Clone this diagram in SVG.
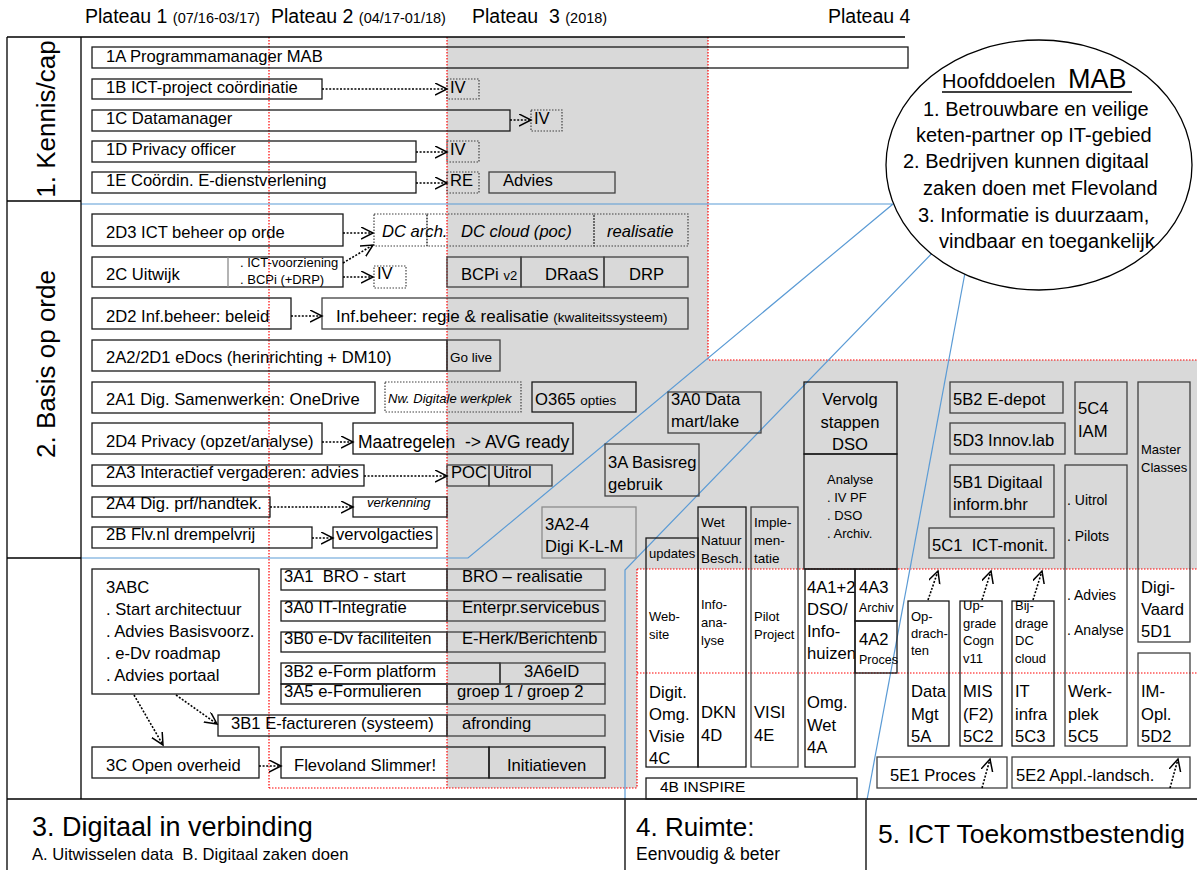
<svg xmlns="http://www.w3.org/2000/svg" width="1197" height="870" viewBox="0 0 1197 870">
<defs>
<marker id="ah" markerUnits="userSpaceOnUse" markerWidth="14" markerHeight="14" refX="12" refY="6" orient="auto"><path d="M0,0 L12,6 L0,12" fill="none" stroke="#000" stroke-width="1.5"/></marker>
<style>
text{font-family:"Liberation Sans",Arial,Helvetica,sans-serif;font-size:16.6px;fill:#000}
.b{fill:none;stroke:#1a1a1a;stroke-width:1.3}
.g{fill:none;stroke:#404040;stroke-width:1.3}
.lg{fill:none;stroke:#8c8c8c;stroke-width:1.3}
.d{fill:none;stroke:#404040;stroke-width:1.2;stroke-dasharray:1.5 1.5}
.red{stroke:#ff0000;stroke-width:1.2;stroke-dasharray:1.5 1.5;fill:none}
.blue{stroke:#5b9bd5;stroke-width:1.2;fill:none}
.fr{stroke:#000;stroke-width:1.3;fill:none}
.ar{stroke:#000;stroke-width:1.6;stroke-dasharray:2 1.6;fill:none;marker-end:url(#ah)}
.i{font-style:italic}
.f12{font-size:12.5px}.f13{font-size:13px}.f135{font-size:13.5px}.f14{font-size:14px}.f145{font-size:14.5px}.f155{font-size:15.5px}
.f17{font-size:17px}.f175{font-size:17.5px}.f195{font-size:19.5px}.f20{font-size:20px}.f26{font-size:26px}.f265{font-size:26.5px}.f27{font-size:27px}
</style>
</defs>
<rect width="1197" height="870" fill="#fff"/>
<g id="background">
<polygon points="447,37 708,37 708,360 1197,360 1197,569 637,569 637,788 447,788" fill="#d9d9d9"/>
<path class="red" d="M269,37V788M447,37V788M708,37V360H1197M637,569H1197M637,673H1197M637,569V788M269,788H637"/>
<path class="blue" d="M81,204H893L468,558H81"/>
<path class="blue" d="M940,245L625,570V800"/>
<path class="blue" d="M967,262L867,800"/>
<path class="fr" d="M7,37H905M7,37V870M81,37V799M7,201H81M7,558H81M7,799H1197M625,800V870M866,800V870"/>
</g>
<g id="headers">
<text x="85" y="23" class="f195">Plateau 1 <tspan class="f145">(07/16-03/17)</tspan></text>
<text x="271" y="23" class="f195">Plateau 2 <tspan class="f145">(04/17-01/18)</tspan></text>
<text x="472" y="23" class="f195" xml:space="preserve">Plateau  3 <tspan class="f145">(2018)</tspan></text>
<text x="828" y="23" class="f195">Plateau 4</text>
</g>
<g id="lanes">
<text transform="translate(55,119) rotate(-90)" text-anchor="middle" class="f26">1. Kennis/cap</text>
<text transform="translate(55,364) rotate(-90)" text-anchor="middle" class="f26">2. Basis op orde</text>
<text x="32" y="836" class="f27">3. Digitaal in verbinding</text>
<text x="32" y="860" xml:space="preserve">A. Uitwisselen data  B. Digitaal zaken doen</text>
<text x="636" y="836" class="f26">4. Ruimte:</text>
<text x="636" y="860" class="f175">Eenvoudig &amp; beter</text>
<text x="878" y="843" class="f265">5. ICT Toekomstbestendig</text>
</g>
<g id="goals">
<ellipse cx="1039" cy="165" rx="153" ry="125" fill="#fff" stroke="#000" stroke-width="1.3"/>
<text x="942" y="88" class="f20">Hoofddoelen</text>
<text x="1068" y="88" class="f27">MAB</text>
<line x1="942" y1="92" x2="1132" y2="92" stroke="#000" stroke-width="1.3"/>
<text x="923" y="116" class="f20">1. Betrouwbare en veilige</text>
<text x="916" y="142" class="f20">keten-partner op IT-gebied</text>
<text x="903" y="168" class="f20">2. Bedrijven kunnen digitaal</text>
<text x="923" y="195" class="f20">zaken doen met Flevoland</text>
<text x="918" y="222" class="f20">3. Informatie is duurzaam,</text>
<text x="939" y="248" class="f20">vindbaar en toegankelijk</text>
</g>
<g id="n1A"><rect class="b" x="92" y="47" width="816" height="21"/><text x="106" y="62">1A Programmamanager MAB</text></g>
<g id="n1B"><rect class="b" x="92" y="79" width="230" height="20"/><text x="106" y="93">1B ICT-project coördinatie</text></g>
<g id="n1B-IV"><rect class="d" x="447" y="79" width="32" height="20"/><text x="450" y="93">IV</text></g>
<g id="n1C"><rect class="b" x="92" y="110" width="418" height="21"/><text x="106" y="124">1C Datamanager</text></g>
<g id="n1C-IV"><rect class="d" x="531" y="110" width="31" height="21"/><text x="534" y="124">IV</text></g>
<g id="n1D"><rect class="b" x="92" y="141" width="324" height="21"/><text x="106" y="155">1D Privacy officer</text></g>
<g id="n1D-IV"><rect class="d" x="447" y="141" width="32" height="21"/><text x="450" y="155">IV</text></g>
<g id="n1E"><rect class="b" x="92" y="172" width="324" height="21"/><text x="106" y="186">1E Coördin. E-dienstverlening</text></g>
<g id="n1E-RE"><rect class="d" x="447" y="172" width="32" height="21"/><text x="450" y="186">RE</text></g>
<g id="n1E-Advies"><rect class="g" x="489" y="172" width="126" height="21"/><text x="503" y="186">Advies</text></g>

<g id="n2D3"><rect class="b" x="92" y="214" width="251" height="32"/><text x="106" y="238">2D3 ICT beheer op orde</text></g>
<g id="n2D3-dcarch"><rect class="d" x="374" y="214" width="53" height="32"/><text x="382" y="237" class="i">DC arch.</text></g>
<g id="n2D3-dccloud"><rect class="d" x="427" y="214" width="167" height="32"/><text x="461" y="237" class="i">DC cloud (poc)</text></g>
<g id="n2D3-real"><rect class="d" x="594" y="214" width="94" height="32"/><text x="607" y="237" class="i">realisatie</text></g>
<g id="n2C"><rect class="b" x="92" y="257" width="251" height="30"/><line class="lg" x1="228" y1="257" x2="228" y2="287"/><text x="106" y="280">2C Uitwijk</text><text x="240" y="267" class="f13">. ICT-voorziening</text><text x="240" y="284" class="f13">. BCPi (+DRP)</text></g>
<g id="n2C-IV"><rect class="d" x="374" y="266" width="32" height="22"/><text x="377" y="279">IV</text></g>
<g id="n2C-bcpi"><rect class="g" x="447" y="257" width="74" height="30"/><text x="461" y="280">BCPi <tspan class="f13">v2</tspan></text></g>
<g id="n2C-draas"><rect class="g" x="521" y="257" width="83" height="30"/><text x="545" y="280">DRaaS</text></g>
<g id="n2C-drp"><rect class="g" x="604" y="257" width="84" height="30"/><text x="629" y="280">DRP</text></g>
<g id="n2D2"><rect class="b" x="92" y="298" width="199" height="31"/><text x="106" y="322">2D2 Inf.beheer: beleid</text></g>
<g id="n2D2-regie"><rect class="g" x="322" y="298" width="366" height="31"/><text x="336" y="322" class="f17">Inf.beheer: regie &amp; realisatie <tspan class="f135">(kwaliteitssysteem)</tspan></text></g>
<g id="n2A2"><rect class="b" x="92" y="340" width="355" height="31"/><text x="106" y="363">2A2/2D1 eDocs (herinrichting + DM10)</text></g>
<g id="n2A2-golive"><rect class="g" x="447" y="340" width="53" height="31"/><text x="450" y="362" class="f135">Go live</text></g>
<g id="n2A1"><rect class="b" x="92" y="382" width="283" height="31"/><text x="106" y="405">2A1 Dig. Samenwerken: OneDrive</text></g>
<g id="n2A1-nw"><rect class="d" x="385" y="382" width="136" height="30"/><text x="388" y="403" class="i f13">Nw. Digitale werkplek</text></g>
<g id="n2A1-o365"><rect class="b" x="532" y="382" width="104" height="30"/><text x="535" y="405">O365 <tspan class="f135">opties</tspan></text></g>
<g id="n2D4"><rect class="b" x="92" y="423" width="230" height="31"/><text x="106" y="447">2D4 Privacy (opzet/analyse)</text></g>
<g id="n2D4-avg"><rect class="b" x="353" y="423" width="220" height="31"/><text x="358" y="448" class="f175" xml:space="preserve">Maatregelen  -&gt; AVG ready</text></g>
<g id="n2A3"><rect class="b" x="92" y="465" width="272" height="21"/><text x="106" y="478">2A3 Interactief vergaderen: advies</text></g>
<g id="n2A3-poc"><rect class="g" x="447" y="465" width="42" height="21"/><text x="451" y="478">POC</text></g>
<g id="n2A3-uitrol"><rect class="g" x="489" y="465" width="63" height="21"/><text x="493" y="478">Uitrol</text></g>
<g id="n2A4"><rect class="b" x="92" y="497" width="178" height="20"/><text x="106" y="509">2A4 Dig. prf/handtek.</text></g>
<g id="n2A4-verk"><rect class="b" x="353" y="497" width="94" height="20"/><text x="367" y="507" class="i f13">verkenning</text></g>
<g id="n2B"><rect class="b" x="92" y="527" width="220" height="21"/><text x="106" y="540">2B Flv.nl drempelvrij</text></g>
<g id="n2B-vervolg"><rect class="b" x="333" y="527" width="104" height="21"/><text x="336" y="540">vervolgacties</text></g>

<g id="n3A0data"><rect class="g" x="668" y="392" width="93" height="41"/><text x="671" y="405">3A0 Data</text><text x="671" y="427">mart/lake</text></g>
<g id="n3A"><rect class="g" x="605" y="444" width="94" height="52"/><text x="608" y="468">3A Basisreg</text><text x="608" y="490">gebruik</text></g>
<g id="n3A2-4"><rect class="lg" x="542" y="507" width="94" height="51"/><text x="545" y="530">3A2-4</text><text x="545" y="552">Digi K-L-M</text></g>

<g id="n3ABC"><rect class="b" x="92" y="569" width="167" height="125"/><text x="106" y="593">3ABC</text><text x="106" y="615">. Start architectuur</text><text x="106" y="637">. Advies Basisvoorz.</text><text x="106" y="659">. e-Dv roadmap</text><text x="106" y="681">. Advies portaal</text></g>
<g id="n3A1"><rect class="b" x="281" y="569" width="166" height="21"/><text x="284" y="582" xml:space="preserve">3A1  BRO - start</text></g>
<g id="n3A1-r"><rect class="g" x="447" y="569" width="158" height="21"/><text x="462" y="582">BRO – realisatie</text></g>
<g id="n3A0"><rect class="b" x="281" y="601" width="166" height="20"/><text x="284" y="613">3A0 IT-Integratie</text></g>
<g id="n3A0-esb"><rect class="g" x="447" y="601" width="158" height="20"/><text x="462" y="613">Enterpr.servicebus</text></g>
<g id="n3B0"><rect class="b" x="281" y="632" width="166" height="20"/><text x="284" y="644">3B0 e-Dv faciliteiten</text></g>
<g id="n3B0-eh"><rect class="g" x="447" y="632" width="158" height="20"/><text x="462" y="644">E-Herk/Berichtenb</text></g>
<g id="n3B2"><rect class="b" x="281" y="663" width="219" height="21"/><text x="284" y="677">3B2 e-Form platform</text></g>
<g id="n3A6"><rect class="g" x="500" y="663" width="105" height="21"/><text x="524" y="677">3A6eID</text></g>
<g id="n3A5"><rect class="b" x="281" y="684" width="166" height="20"/><text x="284" y="697">3A5 e-Formulieren</text></g>
<g id="n3A5-g"><rect class="g" x="447" y="684" width="158" height="20"/><text x="457" y="697">groep 1 / groep 2</text></g>
<g id="n3B1"><rect class="b" x="218" y="715" width="229" height="21"/><text x="231" y="729">3B1 E-factureren (systeem)</text></g>
<g id="n3B1-af"><rect class="g" x="447" y="715" width="158" height="21"/><text x="462" y="729">afronding</text></g>
<g id="n3C"><rect class="b" x="92" y="747" width="167" height="31"/><text x="106" y="771">3C Open overheid</text></g>
<g id="n3C-fs"><rect class="b" x="281" y="747" width="208" height="31"/><text x="294" y="771">Flevoland Slimmer!</text></g>
<g id="n3C-init"><rect class="b" x="489" y="747" width="116" height="31"/><text x="507" y="771">Initiatieven</text></g>

<g id="n4C"><rect class="b" x="646" y="538" width="52" height="229"/><text x="649" y="558" class="f13">updates</text><text x="649" y="621" class="f13">Web-</text><text x="649" y="639" class="f13">site</text><text x="649" y="698">Digit.</text><text x="649" y="720">Omg.</text><text x="649" y="742">Visie</text><text x="649" y="764">4C</text></g>
<g id="n4D"><rect class="b" x="698" y="507" width="48" height="260"/><text x="701" y="527" class="f135">Wet</text><text x="701" y="545" class="f135">Natuur</text><text x="701" y="563" class="f135">Besch.</text><text x="701" y="609" class="f13">Info-</text><text x="701" y="627" class="f13">ana-</text><text x="701" y="645" class="f13">lyse</text><text x="701" y="718">DKN</text><text x="701" y="741">4D</text></g>
<g id="n4E"><rect class="g" x="751" y="507" width="47" height="260"/><text x="754" y="527" class="f135">Imple-</text><text x="754" y="545" class="f135">men-</text><text x="754" y="563" class="f135">tatie</text><text x="754" y="621" class="f13">Pilot</text><text x="754" y="639" class="f13">Project</text><text x="754" y="718">VISI</text><text x="754" y="741">4E</text></g>
<g id="nDSO"><rect class="b" x="804" y="382" width="93" height="72"/><text x="850" y="405" text-anchor="middle">Vervolg</text><text x="850" y="428" text-anchor="middle">stappen</text><text x="850" y="450" text-anchor="middle">DSO</text></g>
<g id="nDSO-an"><rect class="b" x="804" y="454" width="93" height="115"/><text x="827" y="484" class="f13">Analyse</text><text x="827" y="502" class="f13">. IV PF</text><text x="827" y="520" class="f13">. DSO</text><text x="827" y="538" class="f13">. Archiv.</text></g>
<g id="n4A"><rect class="b" x="805" y="569" width="50" height="198"/><text x="807" y="593">4A1+2</text><text x="807" y="615">DSO/</text><text x="807" y="637">Info-</text><text x="807" y="659">huizen</text><text x="807" y="708">Omg.</text><text x="807" y="731">Wet</text><text x="807" y="753">4A</text></g>
<g id="n4A3"><rect class="b" x="855" y="569" width="42" height="52"/><text x="859" y="593">4A3</text><text x="859" y="612" class="f12">Archiv</text></g>
<g id="n4A2"><rect class="b" x="855" y="621" width="42" height="52"/><text x="859" y="645">4A2</text><text x="859" y="664" class="f12">Proces</text></g>
<g id="n4B"><rect class="b" x="646" y="778" width="211" height="21"/><text x="660" y="792" class="f155">4B INSPIRE</text></g>

<g id="n5B2"><rect class="g" x="950" y="382" width="113" height="31"/><text x="953" y="405">5B2 E-depot</text></g>
<g id="n5D3"><rect class="g" x="950" y="423" width="115" height="31"/><text x="953" y="446">5D3 Innov.lab</text></g>
<g id="n5C4"><rect class="g" x="1075" y="382" width="52" height="72"/><text x="1078" y="414">5C4</text><text x="1078" y="437">IAM</text></g>
<g id="n5B1"><rect class="g" x="950" y="465" width="104" height="52"/><text x="953" y="488">5B1 Digitaal</text><text x="953" y="510">inform.bhr</text></g>
<g id="n5C1"><rect class="g" x="929" y="528" width="125" height="30"/><text x="932" y="551" xml:space="preserve">5C1  ICT-monit.</text></g>
<g id="n5C5"><rect class="g" x="1065" y="465" width="62" height="281"/><text x="1067" y="505" class="f14">. Uitrol</text><text x="1067" y="541" class="f14">. Pilots</text><text x="1067" y="600" class="f14">. Advies</text><text x="1067" y="635" class="f14">. Analyse</text><text x="1068" y="697">Werk-</text><text x="1068" y="720">plek</text><text x="1068" y="742">5C5</text></g>
<g id="n5D1"><rect class="g" x="1138" y="382" width="52" height="260"/><text x="1141" y="454" class="f13">Master</text><text x="1141" y="472" class="f13">Classes</text><text x="1141" y="593">Digi-</text><text x="1141" y="615">Vaard</text><text x="1141" y="637">5D1</text></g>
<g id="n5D2"><rect class="g" x="1138" y="653" width="52" height="93"/><text x="1141" y="697">IM-</text><text x="1141" y="720">Opl.</text><text x="1141" y="742">5D2</text></g>
<g id="n5A"><rect class="b" x="908" y="601" width="41" height="145"/><text x="911" y="621" class="f13">Op-</text><text x="911" y="638" class="f13">drach-</text><text x="911" y="655" class="f13">ten</text><text x="911" y="697">Data</text><text x="911" y="720">Mgt</text><text x="911" y="742">5A</text></g>
<g id="n5C2"><rect class="b" x="960" y="601" width="42" height="145"/><text x="963" y="610" class="f13">Up-</text><text x="963" y="628" class="f13">grade</text><text x="963" y="645" class="f13">Cogn</text><text x="963" y="663" class="f13">v11</text><text x="963" y="697">MIS</text><text x="963" y="720">(F2)</text><text x="963" y="742">5C2</text></g>
<g id="n5C3"><rect class="b" x="1012" y="601" width="42" height="145"/><text x="1015" y="610" class="f13">Bij-</text><text x="1015" y="628" class="f13">drage</text><text x="1015" y="645" class="f13">DC</text><text x="1015" y="663" class="f13">cloud</text><text x="1015" y="697">IT</text><text x="1015" y="720">infra</text><text x="1015" y="742">5C3</text></g>
<g id="n5E1"><rect class="g" x="877" y="757" width="130" height="31"/><text x="890" y="781">5E1 Proces</text></g>
<g id="n5E2"><rect class="g" x="1012" y="757" width="178" height="31"/><text x="1016" y="781">5E2 Appl.-landsch.</text></g>

<g id="connectors">
<path class="ar" d="M322,89H447"/>
<path class="ar" d="M510,120H531"/>
<path class="ar" d="M416,152H447"/>
<path class="ar" d="M416,183H447"/>
<path class="ar" d="M343,233H373"/>
<path class="ar" d="M343,263L373,245"/>
<path class="ar" d="M343,277H373"/>
<path class="ar" d="M291,316H322"/>
<path class="ar" d="M322,442H353"/>
<path class="ar" d="M364,476H447"/>
<path class="ar" d="M270,507H353"/>
<path class="ar" d="M312,538H333"/>
<path class="ar" d="M134,695L163,745"/>
<path class="ar" d="M176,695L217,724"/>
<path class="ar" d="M259,766H281"/>
<path class="ar" d="M928,600L938,571"/>
<path class="ar" d="M982,600L991,571"/>
<path class="ar" d="M1033,600L1042,571"/>
<path class="ar" d="M982,788L990,759"/>
<path class="ar" d="M1170,788L1178,759"/>
</g>
</svg>
